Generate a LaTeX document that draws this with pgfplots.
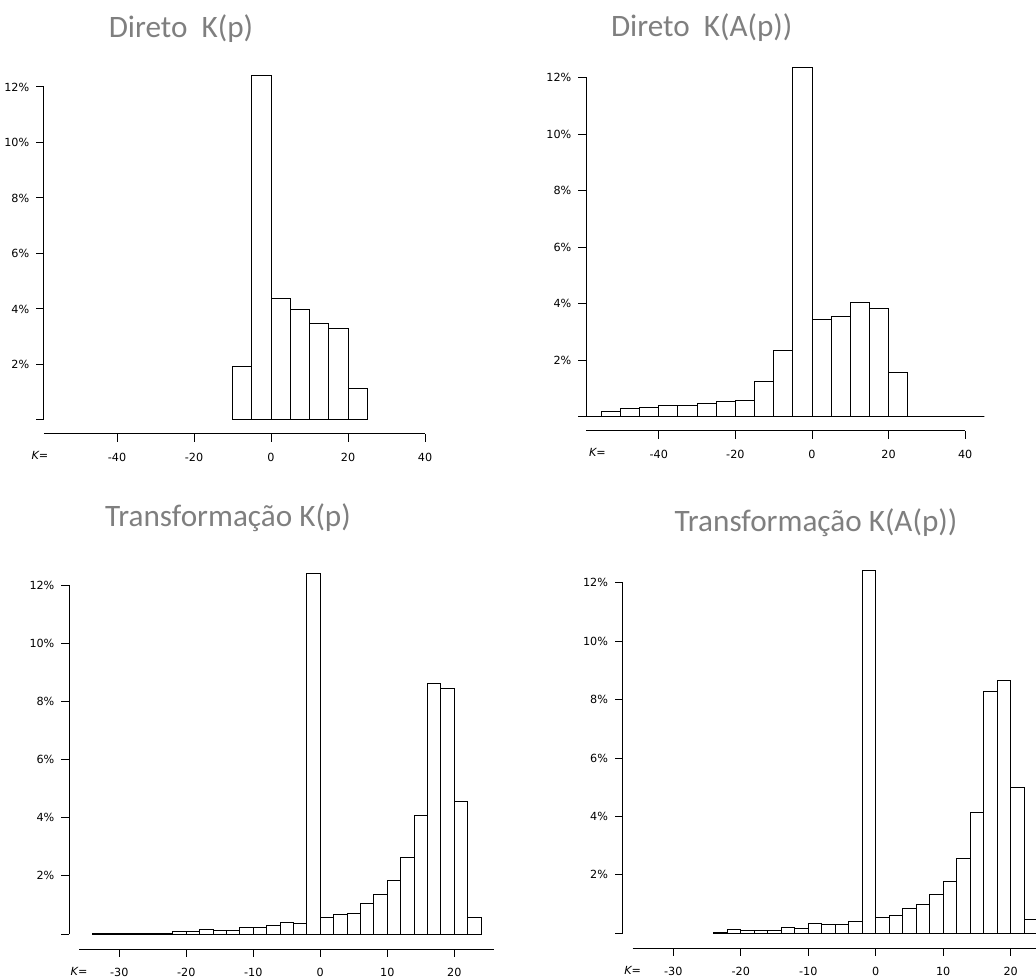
\documentclass[border=0pt]{standalone}
\usepackage{fontspec}
\setmainfont{DejaVu Sans}
\newfontfamily\titlefont{Carlito}
\usepackage{pgfplots}
\pgfplotsset{compat=1.18}
\definecolor{titlegray}{RGB}{127,127,127}

\pgfplotsset{
  rstyle/.style={
    scale only axis,
    anchor=south west,
    axis lines*=left,
    clip=false,
    ymin=0, ymax=12,
    ytick={0,2,4,6,8,10,12},
    yticklabels={,2\%,4\%,6\%,8\%,10\%,12\%},
    tick align=outside,
    major tick length=3.8pt,
    tick style={black, line width=0.5pt},
    axis line style={black, line width=0.5pt},
    every tick label/.append style={font=\fontsize{5.6}{6.5}\selectfont},
    xticklabel style={yshift=-2.2pt},
    /pgf/number format/assume math mode=true,
  },
  hist/.style={ybar interval, fill=white, draw=black, line width=0.5pt},
}
\tikzset{
  klabel/.style={anchor=base, font=\fontsize{5.6}{6.5}\selectfont, inner sep=0pt},
  ttl/.style={anchor=base, font=\titlefont\fontsize{15.6}{18}\selectfont, text=titlegray, inner sep=0pt},
}

\begin{document}
\begin{tikzpicture}
\useasboundingbox (0,0) rectangle (518pt,489.5pt);

% Panel 1: Direto K(p)
\begin{axis}[rstyle, at={(21.93pt,279.5pt)}, width=190.58pt, height=166.5pt,
  xmin=-59, xmax=40, xtick={-40,-20,0,20,40}, xticklabels={-40,-20,0,20,40},
  axis x line shift=7pt]
\addplot[hist] coordinates {(-10,1.94) (-5,12.43) (0,4.37) (5,3.99) (10,3.47) (15,3.30) (20,1.14) (25,0)};
\node[klabel] at (axis cs:-60,0) [yshift=-20pt] {\itshape K\upshape=};
\end{axis}

% Panel 2: Direto K(A(p))
\begin{axis}[rstyle, at={(293.0pt,281.15pt)}, width=189.6pt, height=169.6pt,
  xmin=-59, xmax=40, xtick={-40,-20,0,20,40}, xticklabels={-40,-20,0,20,40},
  axis x line shift=7.15pt]
\addplot[hist] coordinates {(-59,0.01) (-55,0.19) (-50,0.28) (-45,0.31) (-40,0.40) (-35,0.40) (-30,0.48) (-25,0.52) (-20,0.59) (-15,1.23) (-10,2.33) (-5,12.36) (0,3.43) (5,3.56) (10,4.04) (15,3.84) (20,1.57) (25,0) (30,0) (35,0) (40,0) (45,0)};
\node[klabel] at (axis cs:-56,0) [yshift=-20pt] {\itshape K\upshape=};
\end{axis}

% Panel 3: Transformacao K(p)
\begin{axis}[rstyle, at={(34.53pt,22.5pt)}, width=212.7pt, height=174.35pt,
  xmin=-37.5, xmax=26, xtick={-30,-20,-10,0,10,20}, xticklabels={-30,-20,-10,0,10,20},
  axis x line shift=7.5pt, x axis line style={shorten <=5pt}]
\addplot[hist] coordinates {(-34,0.02) (-32,0.02) (-30,0.03) (-28,0.005) (-26,0.02) (-24,0.01) (-22,0.09) (-20,0.07) (-18,0.14) (-16,0.13) (-14,0.13) (-12,0.24) (-10,0.21) (-8,0.30) (-6,0.40) (-4,0.36) (-2,12.39) (0,0.56) (2,0.68) (4,0.71) (6,1.06) (8,1.36) (10,1.83) (12,2.64) (14,4.09) (16,8.62) (18,8.45) (20,4.55) (22,0.56) (24,0)};
\node[klabel] at (axis cs:-36,0) [yshift=-20.6pt] {\itshape K\upshape=};
\end{axis}

% Panel 4: Transformacao K(A(p))
\begin{axis}[rstyle, at={(311.3pt,22.85pt)}, width=214.3pt, height=175.3pt,
  xmin=-37.5, xmax=26, xtick={-30,-20,-10,0,10,20}, xticklabels={-30,-20,-10,0,10,20},
  axis x line shift=7.35pt, x axis line style={shorten <=5pt}]
\addplot[hist] coordinates {(-24,0.03) (-22,0.14) (-20,0.08) (-18,0.11) (-16,0.09) (-14,0.19) (-12,0.15) (-10,0.33) (-8,0.31) (-6,0.29) (-4,0.40) (-2,12.43) (0,0.55) (2,0.60) (4,0.84) (6,0.99) (8,1.34) (10,1.78) (12,2.57) (14,4.14) (16,8.29) (18,8.65) (20,4.99) (22,0.47) (24,0)};
\node[klabel] at (axis cs:-36,0) [yshift=-20.5pt] {\itshape K\upshape=};
\end{axis}

\node[ttl] at (90.5pt,470.5pt) {Direto\ \ K(p)};
\node[ttl] at (350.85pt,471pt) {Direto\ \ K(A(p))};
\node[ttl] at (114pt,226.15pt) {Transformação K(p)};
\node[ttl] at (408pt,223.65pt) {Transformação K(A(p))};
\end{tikzpicture}
\end{document}
